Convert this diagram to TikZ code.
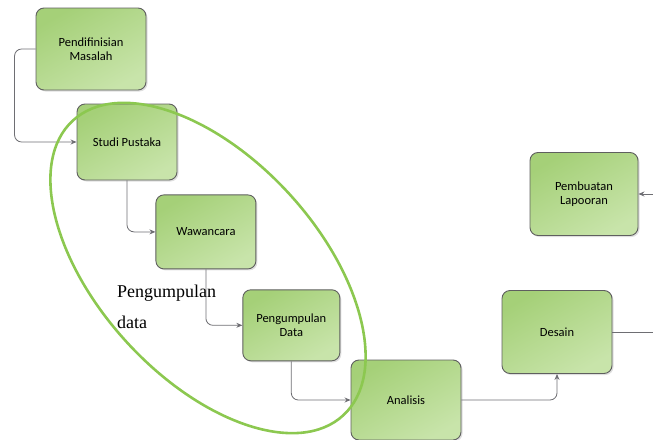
\documentclass[tikz,border=0pt]{standalone}
\usepackage{fontspec}
\setmainfont{Liberation Serif}
\newfontfamily\boxfont{Carlito}
\usepackage{tikz}
\usetikzlibrary{positioning, shadows, arrows.meta}

\definecolor{boxdark}{RGB}{165,208,120}
\definecolor{boxlight}{RGB}{200,228,170}
\definecolor{boxline}{RGB}{95,95,95}
\definecolor{ringgreen}{RGB}{140,200,80}
\definecolor{linkgray}{RGB}{110,110,115}

\tikzset{
  stepbox/.style={draw=boxline, line width=0.9pt, rounded corners=8pt,
    top color=boxdark, bottom color=boxlight, shading angle=30,
    drop shadow={shadow xshift=1.5pt, shadow yshift=-1.5pt, opacity=0.25},
    align=center, inner sep=2pt,
    font=\boxfont\fontsize{12.5}{14}\selectfont},
  link/.style={draw=linkgray, line width=0.8pt, rounded corners=7pt,
    -{Stealth[length=6pt, width=5pt]}},
}

\begin{document}
\begin{tikzpicture}[x=1pt, y=-1pt]
  \useasboundingbox (0,0) rectangle (653,439);
  \clip (0,0) rectangle (653,439);

  \node[stepbox, minimum width=110pt, minimum height=82pt] (masalah) at (91,49) {Pendifinisian\\Masalah};
  \node[stepbox, minimum width=100pt, minimum height=76pt] (pustaka) at (127,142) {Studi Pustaka};
  \node[stepbox, minimum width=100pt, minimum height=74pt,
        below right=14pt and -22pt of pustaka] (wawancara) {Wawancara};
  \node[stepbox, minimum width=97pt, minimum height=71pt,
        below right=20pt and -14pt of wawancara] (kumpul) {Pengumpulan\\Data};
  \node[stepbox, minimum width=110pt, minimum height=80pt] (analisis) at (406,400) {Analisis};
  \node[stepbox, minimum width=110pt, minimum height=83pt] (desain) at (557,332) {Desain};
  \node[stepbox, minimum width=108pt, minimum height=83pt] (laporan) at (584,194) {Pembuatan\\Lapooran};

  \coordinate (desainout) at (655,332);
  \coordinate (laporanin) at (655,194);

  % alur
  \draw[link] (masalah.west) -- ++(-21,0) |- (pustaka.west);
  \draw[link] (pustaka.south) |- (wawancara.west);
  \draw[link] (wawancara.south) |- (kumpul.west);
  \draw[link] (kumpul.south) |- (analisis.west);
  \draw[link] (analisis.east) -| (desain.south);
  \draw[link, -] (desain.east) -- (desainout);
  \draw[link] (laporanin) -- (laporan.east);

  \draw[ringgreen, line width=2.6pt, rotate around={-47.5:(208,268)}]
    (208,268) ellipse [x radius=200, y radius=110];

  \node[anchor=north west, align=left, inner sep=0pt,
        font=\fontsize{18}{31}\selectfont] (grup) at (117,285) {Pengumpulan\\data};
\end{tikzpicture}
\end{document}
